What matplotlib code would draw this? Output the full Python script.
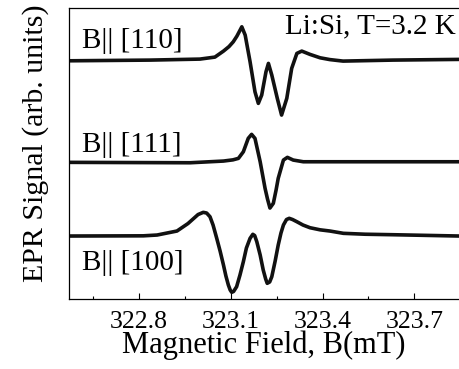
import matplotlib
matplotlib.use('Agg')
import matplotlib.pyplot as plt
import numpy as np

plt.rcParams['font.family'] = ['Liberation Serif', 'DejaVu Serif']

# Magnetic field (mT) and EPR signal (arb. units)
b_110 = [322.571, 322.836, 322.999, 323.048, 323.076, 323.094, 323.108, 323.120,
         323.136, 323.147, 323.163, 323.179, 323.190, 323.201, 323.215, 323.223,
         323.234, 323.252, 323.266, 323.283, 323.299, 323.316, 323.332, 323.359,
         323.392, 323.424, 323.467, 323.630, 323.846]
s_110 = [-1.2, -0.5, 0.5, 2.5, 8.5, 13.0, 17.8, 23.5,
         32.8, 24.5, -2.2, -32.2, -43.8, -35.5, -12.2, -3.8,
         -15.5, -38.8, -55.5, -38.8, -8.8, 6.2, 8.5, 5.2,
         1.8, 0.0, -1.5, -0.5, 0.2]

b_111 = [322.571, 322.967, 323.076, 323.107, 323.125, 323.141, 323.157, 323.168,
         323.179, 323.196, 323.204, 323.212, 323.220, 323.228, 323.239, 323.248,
         323.255, 323.272, 323.285, 323.304, 323.337, 323.392, 323.846]
s_111 = [-0.3, -0.7, 1.0, 2.2, 3.7, 10.3, 23.7, 27.7,
         23.7, 0.3, -13.0, -26.3, -37.0, -46.0, -41.3, -28.0,
         -16.3, 2.0, 4.7, 2.0, 0.3, 0.3, 0.3]

b_100 = [322.571, 322.814, 322.859, 322.924, 322.960, 322.993, 323.010, 323.021,
         323.032, 323.042, 323.054, 323.065, 323.076, 323.084, 323.092, 323.098,
         323.103, 323.109, 323.119, 323.130, 323.141, 323.151, 323.163, 323.172,
         323.178, 323.185, 323.196, 323.206, 323.214, 323.219, 323.227, 323.234,
         323.245, 323.255, 323.264, 323.272, 323.282, 323.291, 323.302, 323.316,
         323.336, 323.359, 323.392, 323.424, 323.468, 323.539, 323.631, 323.846]
s_100 = [0.0, 0.2, 1.0, 5.0, 12.5, 21.5, 23.7, 23.0,
         19.3, 11.0, -2.3, -15.0, -29.0, -40.0, -49.0, -54.0,
         -56.3, -55.5, -50.7, -39.0, -25.7, -12.0, -2.3, 1.7,
         0.5, -5.7, -19.0, -34.0, -43.0, -47.3, -46.0, -40.7,
         -25.0, -9.0, 3.0, 11.0, 16.5, 17.7, 16.5, 14.3,
         11.0, 8.3, 6.2, 5.0, 2.7, 1.8, 1.3, 0.0]

offsets = [239.5, 137.0, 63.0]
labels = ['B|| [110]', 'B|| [111]', 'B|| [100]']
label_y = [0.8625, 0.506, 0.0997]

fig = plt.figure(figsize=(4.59, 3.69), dpi=100)
ax = fig.add_axes([0.1503, 0.1897, 0.8497, 0.7883])

for b, s, off in zip([b_110, b_111, b_100], [s_110, s_111, s_100], offsets):
    ax.plot(b, np.array(s) + off, color='#111111', lw=2.6,
            solid_joinstyle='round', solid_capstyle='round')

for lab, y in zip(labels, label_y):
    ax.text(0.033, y, lab, transform=ax.transAxes, fontsize=21,
            va='baseline', ha='left')
ax.text(0.554, 0.914, 'Li:Si, T=3.2 K', transform=ax.transAxes, fontsize=21,
        va='baseline', ha='left')

ax.set_xlim(322.571, 323.846)
ax.set_ylim(0, 291)
ax.set_xticks([322.8, 323.1, 323.4, 323.7])
ax.set_xticklabels(['322.8', '323.1', '323.4', '323.7'])
ax.set_xticks([322.65, 322.95, 323.25, 323.55], minor=True)
ax.set_yticks([])
ax.tick_params(axis='x', which='major', direction='in', length=4, width=0.8,
               labelsize=18.5, pad=8.5)
ax.tick_params(axis='x', which='minor', direction='in', length=2.5, width=0.8)
ax.spines['right'].set_visible(False)
for sp in ['left', 'bottom', 'top']:
    ax.spines[sp].set_linewidth(0.9)

ax.set_xlabel('Magnetic Field, B(mT)', fontsize=22, labelpad=-2)
ax.set_ylabel('EPR Signal (arb. units)', fontsize=21.5)
ax.yaxis.set_label_coords(-0.05, 0.536)

fig.savefig('out.png', dpi=100)
